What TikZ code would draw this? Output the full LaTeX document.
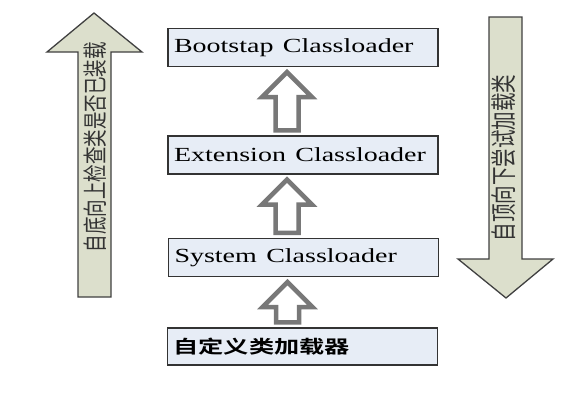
\documentclass[tikz,border=0pt]{standalone}
\usepackage{fontspec}
\usepackage{graphicx}
\setmainfont{Liberation Serif}
\newfontfamily\cjk{Noto Sans CJK SC}[BoldFont={Noto Sans CJK SC Bold}]
\usetikzlibrary{calc}
\definecolor{boxfill}{HTML}{E7EDF6}
\definecolor{bigfill}{HTML}{DCDFCC}
\definecolor{hollowgray}{HTML}{787878}
\tikzset{
  loader/.style={draw=black!80, line width=1.3pt, fill=boxfill, minimum height=38pt,
    text width=258pt, inner xsep=6pt, align=left, font=\fontsize{20}{22}\selectfont},
  hollow/.style={draw=hollowgray, line width=4.5pt, fill=white},
  bigarrow/.style={draw=black!75, line width=1.3pt, fill=bigfill},
  sidetext/.style={xscale=1.4, rotate=90, font=\cjk\fontsize{17.5}{19}\selectfont, text=black!80}
}
\newcommand\hollowup[2]{%
  \draw[hollow] let \p1=([xshift=-16pt,yshift=-5pt]#1.south), \p2=([xshift=-16pt,yshift=5pt]#2.north) in
    (\x1,\y1) -- (\x1+25pt,\y1-25pt) -- (\x1+11.5pt,\y1-25pt) -- (\x1+11.5pt,\y2)
    -- (\x1-11.5pt,\y2) -- (\x1-11.5pt,\y1-25pt) -- (\x1-25pt,\y1-25pt) -- cycle;}
\begin{document}
\begin{tikzpicture}[x=1pt,y=-1pt]
		\useasboundingbox (0,0) rectangle (581,416);
		% side arrows
		\draw[bigarrow] (94,13) -- (142,52) -- (111,52) -- (111,297) -- (78,297) -- (78,52) -- (47,52) -- cycle;
		\draw[bigarrow] (489,17) -- (522,17) -- (522,259) -- (553,259) -- (506,298) -- (458,259) -- (489,259) -- cycle;
		\node[sidetext] (up) at (95,147) {自底向上检查类是否已装载};
		\node[sidetext, font=\cjk\fontsize{18.5}{20}\selectfont] (down) at (504,158) {自顶向下尝试加载类};
		% loaders
		\node[loader] (boot) at (303,47.5) {\scalebox{1.4}[1]{Bootstap Classloader}};
		\node[loader] (ext) at (303,155) {\scalebox{1.4}[1]{Extension Classloader}};
		\node[loader] (sys) at (303.5,257.5) {\scalebox{1.4}[1]{System Classloader}};
		\node[loader, minimum height=37pt] (cust) at (302.5,346.5) {\scalebox{1.4}[1]{\cjk\bfseries\fontsize{18}{20}\selectfont 自定义类加载器}};
		\hollowup{boot}{ext}
		\hollowup{ext}{sys}
		\hollowup{sys}{cust}
	\end{tikzpicture}
\end{document}
